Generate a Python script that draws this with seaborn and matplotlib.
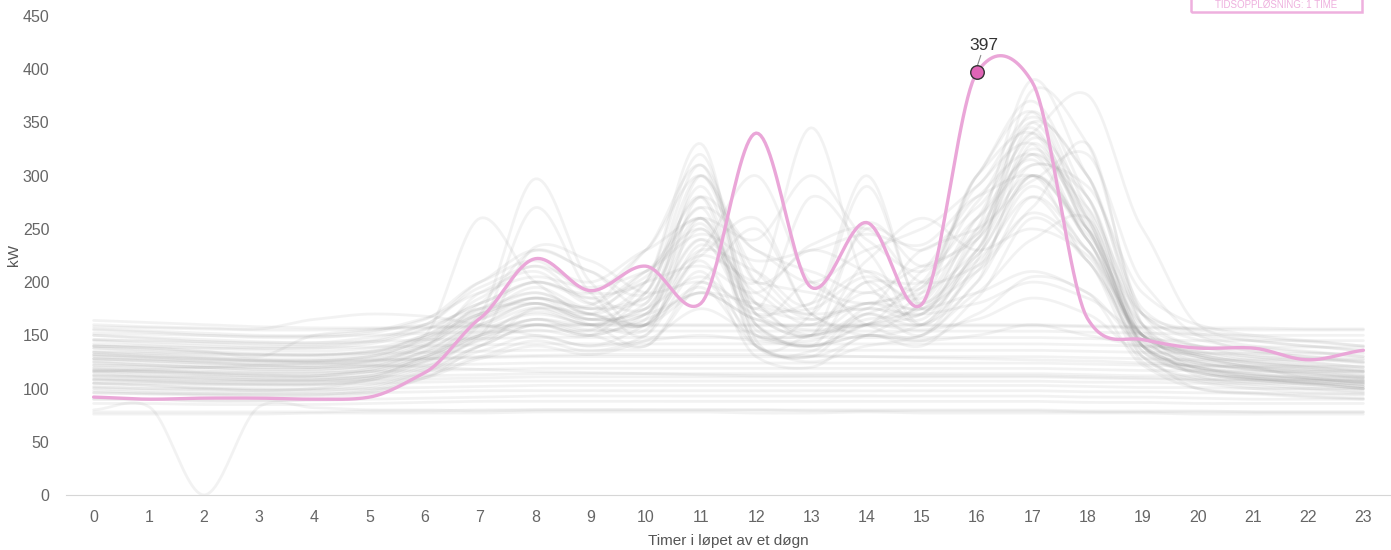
import numpy as np
import pandas as pd
import matplotlib.pyplot as plt
import seaborn as sns
from matplotlib.patches import Rectangle

hours = list(range(24))

# valgt dag (uthevet)
highlight = [92, 90, 91, 91, 90, 92, 115, 166, 222, 192, 215, 180, 340, 195, 256, 179, 397, 388, 166, 146, 138, 138, 127, 136]

# ukedager med topper
work_days = [
    [130, 128, 125, 122, 120, 125, 140, 180, 230, 210, 190, 300, 180, 150, 170, 160, 200, 330, 250, 150, 130, 120, 115, 110],
    [120, 118, 115, 113, 112, 118, 135, 170, 297, 200, 160, 280, 160, 140, 160, 170, 230, 350, 300, 160, 130, 120, 110, 105],
    [110, 108, 106, 105, 105, 110, 130, 160, 270, 190, 150, 260, 140, 130, 150, 180, 250, 320, 260, 140, 120, 110, 105, 100],
    [140, 138, 135, 133, 132, 135, 150, 260, 200, 170, 200, 320, 170, 200, 160, 150, 220, 380, 330, 170, 140, 130, 125, 120],
    [125, 122, 120, 118, 118, 122, 140, 190, 210, 180, 210, 250, 200, 345, 200, 170, 240, 300, 220, 150, 125, 118, 112, 108],
    [115, 112, 110, 108, 108, 112, 128, 150, 175, 160, 180, 270, 150, 170, 290, 180, 260, 350, 260, 140, 120, 112, 108, 104],
    [135, 133, 130, 128, 128, 132, 150, 175, 190, 170, 160, 230, 300, 200, 180, 200, 290, 330, 240, 150, 130, 122, 118, 112],
    [105, 103, 101, 100, 100, 104, 118, 140, 160, 150, 170, 240, 160, 140, 200, 160, 230, 310, 280, 140, 115, 108, 104, 100],
    [150, 148, 146, 144, 143, 148, 160, 200, 230, 210, 180, 290, 170, 150, 180, 170, 250, 390, 300, 170, 150, 140, 135, 130],
    [100, 98, 97, 96, 96, 100, 115, 135, 150, 140, 160, 220, 140, 130, 170, 150, 200, 280, 230, 130, 110, 104, 100, 97],
    [145, 142, 140, 138, 138, 142, 155, 180, 200, 190, 230, 300, 210, 170, 250, 230, 270, 340, 376, 250, 160, 145, 140, 135],
    [118, 116, 114, 112, 112, 116, 130, 160, 180, 160, 140, 200, 150, 140, 160, 190, 300, 370, 280, 150, 122, 114, 110, 106],
    [128, 126, 124, 122, 122, 126, 140, 170, 195, 175, 185, 260, 170, 160, 190, 175, 240, 360, 270, 155, 132, 124, 120, 115],
    [112, 110, 108, 107, 107, 110, 125, 150, 165, 155, 200, 330, 145, 135, 175, 165, 225, 300, 250, 135, 116, 110, 106, 102],
    [138, 136, 134, 132, 131, 134, 148, 175, 200, 185, 175, 250, 175, 280, 230, 160, 215, 290, 230, 150, 135, 128, 124, 120],
    [122, 120, 118, 116, 116, 120, 135, 165, 185, 170, 160, 225, 260, 170, 160, 210, 280, 320, 240, 145, 124, 117, 113, 109],
    [108, 106, 104, 103, 103, 107, 120, 145, 155, 150, 190, 280, 140, 150, 160, 175, 210, 270, 330, 160, 118, 110, 106, 102],
    [132, 130, 128, 126, 126, 130, 145, 170, 185, 165, 170, 240, 190, 160, 200, 200, 245, 340, 255, 150, 132, 124, 120, 116],
    [155, 153, 150, 148, 148, 152, 165, 200, 220, 190, 200, 270, 230, 200, 230, 250, 290, 355, 300, 175, 152, 145, 140, 136],
    [98, 96, 95, 94, 94, 98, 112, 130, 145, 135, 150, 210, 130, 120, 150, 140, 185, 260, 220, 125, 106, 100, 96, 94],
    [142, 140, 138, 136, 135, 138, 150, 185, 215, 180, 165, 300, 200, 230, 210, 180, 225, 300, 245, 160, 140, 132, 128, 124],
    [116, 114, 112, 110, 110, 114, 128, 155, 170, 160, 155, 235, 180, 150, 255, 215, 245, 325, 265, 140, 118, 112, 108, 104],
    [126, 124, 122, 120, 120, 124, 138, 160, 180, 165, 175, 255, 155, 145, 170, 195, 275, 345, 250, 145, 126, 119, 115, 111],
    [150, 147, 144, 142, 141, 145, 160, 195, 215, 200, 230, 260, 240, 300, 240, 210, 260, 310, 290, 190, 160, 150, 145, 140],
    [102, 100, 99, 98, 98, 102, 116, 140, 160, 150, 140, 200, 250, 170, 150, 160, 210, 300, 240, 130, 108, 102, 99, 96],
    [134, 131, 129, 127, 126, 130, 146, 172, 190, 175, 200, 215, 190, 235, 250, 200, 215, 265, 230, 150, 134, 126, 122, 118],
    [124, 122, 120, 118, 118, 121, 134, 150, 165, 160, 175, 205, 170, 180, 210, 195, 300, 340, 250, 140, 124, 118, 114, 110],
    [113, 111, 109, 108, 108, 112, 126, 148, 160, 150, 165, 190, 165, 150, 220, 260, 230, 250, 225, 135, 115, 109, 105, 102],
    [146, 144, 142, 140, 140, 144, 156, 180, 200, 185, 205, 280, 230, 210, 190, 215, 240, 320, 270, 170, 146, 138, 134, 130],
    [119, 117, 115, 114, 114, 118, 132, 158, 176, 165, 190, 310, 160, 150, 165, 180, 300, 360, 260, 142, 120, 114, 110, 107],
    [138, 135, 133, 131, 131, 135, 148, 170, 185, 175, 185, 225, 200, 190, 175, 230, 250, 295, 320, 200, 150, 135, 130, 125],
    [109, 107, 105, 104, 104, 108, 122, 146, 165, 155, 160, 195, 140, 125, 140, 150, 190, 240, 260, 150, 112, 106, 102, 99],
    [128, 126, 124, 123, 123, 127, 141, 165, 180, 170, 210, 260, 180, 175, 205, 185, 260, 315, 240, 150, 128, 121, 117, 113],
    [156, 154, 152, 150, 150, 154, 166, 190, 205, 195, 210, 245, 220, 230, 245, 235, 280, 300, 250, 170, 155, 148, 144, 140],
    [96, 95, 94, 93, 93, 97, 110, 128, 140, 132, 145, 175, 150, 140, 150, 145, 170, 205, 190, 122, 100, 96, 93, 91],
    [131, 129, 127, 125, 125, 129, 143, 168, 185, 178, 230, 310, 200, 165, 180, 190, 230, 335, 280, 160, 132, 125, 121, 117],
    [117, 115, 113, 112, 112, 116, 130, 152, 172, 160, 170, 230, 210, 180, 300, 175, 220, 280, 220, 140, 119, 113, 109, 106],
    [160, 158, 157, 156, 165, 170, 168, 160, 150, 140, 145, 150, 145, 140, 150, 145, 150, 160, 150, 140, 135, 130, 128, 125],
    [140, 138, 135, 130, 150, 155, 160, 175, 180, 165, 170, 190, 180, 170, 175, 170, 180, 200, 185, 150, 140, 135, 130, 128],
    [105, 103, 100, 98, 100, 108, 125, 150, 233, 220, 190, 200, 175, 165, 180, 175, 190, 210, 190, 140, 115, 108, 104, 100],
    [90, 90, 88, 88, 90, 95, 110, 140, 175, 170, 160, 190, 165, 155, 160, 155, 165, 185, 170, 130, 100, 95, 92, 90],
    [80, 83, 0, 83, 82, 80, 80, 79, 80, 80, 80, 80, 80, 79, 79, 79, 79, 79, 78, 78, 78, 78, 78, 78],
]

# helg / flate dager
flat_days = [
    [76, 76, 76, 76, 77, 77, 77, 77, 78, 78, 78, 78, 77, 77, 78, 77, 77, 77, 77, 77, 76, 76, 76, 76],
    [78, 78, 78, 78, 78, 79, 79, 80, 80, 80, 80, 80, 80, 80, 80, 80, 80, 80, 79, 79, 79, 78, 78, 78],
    [86, 86, 85, 85, 85, 86, 87, 88, 88, 88, 88, 88, 88, 88, 88, 88, 88, 88, 87, 87, 86, 86, 86, 86],
    [90, 90, 89, 89, 89, 90, 91, 92, 93, 93, 93, 93, 93, 93, 93, 93, 93, 93, 92, 92, 91, 90, 90, 90],
    [96, 95, 95, 95, 95, 96, 97, 98, 98, 98, 98, 98, 98, 98, 98, 98, 98, 98, 97, 97, 96, 96, 95, 95],
    [101, 100, 100, 99, 99, 100, 101, 102, 103, 103, 103, 103, 103, 103, 103, 103, 103, 103, 102, 101, 101, 100, 100, 100],
    [105, 105, 104, 104, 104, 105, 106, 107, 107, 107, 107, 107, 107, 107, 107, 107, 107, 107, 106, 106, 105, 105, 105, 105],
    [108, 108, 107, 107, 107, 108, 109, 110, 111, 111, 111, 111, 111, 111, 111, 111, 111, 111, 110, 109, 108, 108, 108, 108],
    [112, 111, 111, 110, 110, 111, 112, 113, 114, 114, 114, 114, 114, 114, 114, 114, 114, 114, 113, 112, 112, 111, 111, 111],
    [117, 116, 116, 115, 115, 116, 117, 118, 119, 119, 119, 119, 119, 119, 119, 119, 119, 119, 118, 117, 117, 116, 116, 116],
    [122, 121, 120, 120, 120, 121, 122, 123, 124, 124, 124, 124, 124, 124, 124, 124, 124, 124, 123, 122, 121, 121, 121, 121],
    [128, 127, 126, 126, 126, 127, 128, 129, 130, 130, 130, 130, 130, 130, 130, 130, 130, 130, 129, 128, 127, 127, 127, 127],
    [134, 133, 132, 132, 132, 133, 134, 135, 136, 136, 136, 136, 136, 136, 136, 136, 136, 136, 135, 134, 133, 133, 133, 133],
    [140, 139, 138, 138, 138, 139, 140, 141, 142, 142, 142, 142, 142, 142, 142, 142, 142, 142, 141, 140, 139, 139, 139, 139],
    [146, 145, 144, 143, 143, 144, 146, 147, 148, 148, 148, 148, 148, 148, 148, 148, 148, 148, 147, 146, 145, 145, 145, 145],
    [152, 151, 150, 149, 149, 150, 152, 153, 154, 154, 154, 154, 154, 154, 154, 154, 154, 154, 153, 152, 151, 150, 150, 150],
    [158, 157, 156, 155, 155, 156, 157, 158, 159, 159, 159, 159, 159, 159, 159, 159, 159, 159, 158, 157, 156, 155, 155, 155],
    [164, 162, 160, 158, 157, 157, 158, 159, 160, 160, 160, 160, 160, 160, 160, 160, 160, 160, 159, 158, 157, 157, 156, 156],
    [132, 130, 128, 126, 124, 122, 120, 118, 116, 115, 114, 113, 112, 112, 112, 112, 112, 112, 111, 110, 109, 108, 108, 107],
    [116, 118, 120, 122, 124, 126, 128, 130, 131, 132, 132, 132, 132, 131, 130, 129, 128, 127, 126, 124, 122, 120, 118, 116],
]

peak_hour = 16
peak_value = 397


def spline(y, tension=0.72, n=24):
    # enkel catmull-rom glatting mellom timeverdiene
    y = np.asarray(y, dtype=float)
    m = np.zeros_like(y)
    m[1:-1] = (y[2:] - y[:-2]) / 2 * tension
    m[0] = (y[1] - y[0]) * tension
    m[-1] = (y[-1] - y[-2]) * tension
    xs, ys = [], []
    for i in range(len(y) - 1):
        t = np.linspace(0, 1, n, endpoint=False)
        h00 = 2 * t**3 - 3 * t**2 + 1
        h10 = t**3 - 2 * t**2 + t
        h01 = -2 * t**3 + 3 * t**2
        h11 = t**3 - t**2
        xs.append(i + t)
        ys.append(h00 * y[i] + h10 * m[i] + h01 * y[i + 1] + h11 * m[i + 1])
    xs.append([len(y) - 1])
    ys.append([y[-1]])
    return np.concatenate(xs), np.concatenate(ys)


rows = []
for k, day in enumerate(work_days + flat_days):
    sx, sy = spline(day)
    rows.append(pd.DataFrame({"time": sx, "kw": sy, "dag": k}))
grey = pd.concat(rows)

hx, hy = spline(highlight)
pink = pd.DataFrame({"time": hx, "kw": hy})

sns.set_style("white")
plt.rcParams["font.family"] = ["Liberation Sans", "DejaVu Sans"]

fig = plt.figure(figsize=(13.91, 5.5), dpi=100)
ax = fig.add_axes([66 / 1391, 55 / 550, 1 - 66 / 1391, 479 / 550])

sns.lineplot(data=grey, x="time", y="kw", units="dag", estimator=None,
             color="#9a9a9a", alpha=0.12, lw=2, ax=ax, legend=False)
sns.lineplot(data=pink, x="time", y="kw", color="#eaa6d8", lw=2.4, ax=ax)

ax.scatter([peak_hour], [peak_value], s=95, color="#e064b6", edgecolor="#333333",
           linewidth=1, zorder=5)
ax.plot([peak_hour, peak_hour + 0.07], [peak_value + 5, peak_value + 16], color="#888888", lw=0.8)
ax.text(peak_hour + 0.12, peak_value + 18, str(peak_value), ha="center", va="bottom",
        fontsize=12.5, color="#333333")

ax.set_xlim(-0.5, 23.5)
ax.set_ylim(0, 450)
ax.set_xticks(hours)
ax.set_yticks(range(0, 451, 50))
ax.tick_params(axis="both", length=0, labelsize=11.5, labelcolor="#666666")
ax.tick_params(axis="x", pad=11)
ax.tick_params(axis="y", pad=12)
for side in ["top", "right", "left"]:
    ax.spines[side].set_visible(False)
ax.spines["bottom"].set_color("#d6d6d6")
ax.set_xlabel("Timer i løpet av et døgn", fontsize=11, color="#555555", labelpad=6)
ax.set_ylabel("")
fig.text(14 / 1391, 1 - 255 / 550, "kW", rotation=90, ha="center", va="center",
         fontsize=11, color="#555555")

# boks oppe til høyre
fig.patches.append(Rectangle((1191 / 1391, 1 - 12 / 550), 171 / 1391, 20 / 550,
                             transform=fig.transFigure, fill=False,
                             edgecolor="#eeb0de", lw=1.8))
fig.text(1276 / 1391, 1 - 5 / 550, "TIDSOPPLØSNING: 1 TIME", ha="center", va="center",
         fontsize=7, color="#eeb0de", fontstretch="condensed")

fig.savefig("out.png", dpi=100)
